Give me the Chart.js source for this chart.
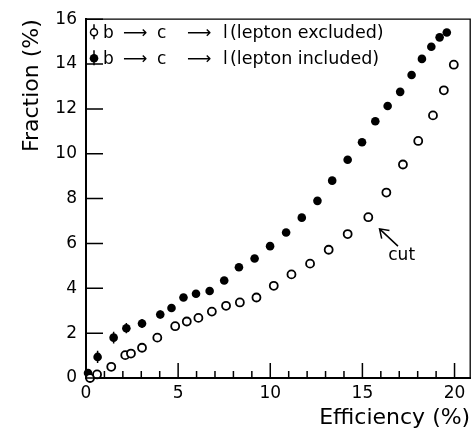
<!DOCTYPE html>
<html>
<head>
<meta charset="utf-8">
<script src="https://cdn.jsdelivr.net/npm/chart.js@4/dist/chart.umd.min.js"></script>
<style>
  html, body { margin: 0; padding: 0; background: #fff; }
</style>
</head>
<body>
<canvas id="fraction" width="476" height="434"></canvas>
<script>
// b -> c -> l, lepton excluded (open circles)
const effExcl  = [0.22, 0.6, 1.37, 2.13, 2.44, 3.04, 3.87, 4.84, 5.47, 6.1, 6.83, 7.6, 8.35, 9.25, 10.19, 11.15, 12.16, 13.17, 14.2, 15.32, 16.3, 17.2, 18.03, 18.83, 19.42, 19.96];
const fracExcl = [0.0, 0.16, 0.5, 1.02, 1.09, 1.35, 1.8, 2.31, 2.52, 2.68, 2.96, 3.22, 3.37, 3.59, 4.11, 4.62, 5.1, 5.72, 6.42, 7.17, 8.27, 9.52, 10.57, 11.71, 12.83, 13.97];

// b -> c -> l, lepton included (filled circles)
const effIncl  = [0.11, 0.63, 1.5, 2.19, 3.04, 4.03, 4.64, 5.29, 5.97, 6.71, 7.5, 8.3, 9.15, 9.99, 10.86, 11.71, 12.56, 13.36, 14.2, 14.98, 15.7, 16.37, 17.05, 17.67, 18.23, 18.74, 19.19, 19.58];
const fracIncl = [0.22, 0.94, 1.8, 2.22, 2.43, 2.83, 3.12, 3.59, 3.76, 3.88, 4.35, 4.94, 5.33, 5.88, 6.49, 7.15, 7.9, 8.8, 9.73, 10.51, 11.45, 12.13, 12.76, 13.51, 14.23, 14.77, 15.19, 15.41];
const errIncl  = [0.15, 0.27, 0.26, 0.23, 0.2, 0.18, 0.17, 0.16, 0.15, 0.14, 0.14, 0.13, 0.13, 0.13, 0.12, 0.12, 0.12, 0.12, 0.12, 0.12, 0.12, 0.12, 0.12, 0.12, 0.12, 0.12, 0.12, 0.12];

const xLabels = [0, 5, 10, 15, 20];
const yLabels = [0, 2, 4, 6, 8, 10, 12, 14, 16];
const legendText = ['(lepton excluded)', '(lepton included)'];

const FONT = 'DejaVu Sans';

function pts(xs, ys) {
  return xs.map((x, i) => ({ x: x, y: ys[i] }));
}

// vertical error bars as line segments split by gaps
function errSegs(xs, ys, es) {
  const out = [];
  xs.forEach((x, i) => {
    out.push({ x: x, y: ys[i] - es[i] }, { x: x, y: ys[i] + es[i] }, { x: x, y: null });
  });
  return out;
}

const decor = {
  id: 'decor',
  afterDatasetsDraw(chart) {
    const { ctx, chartArea: a, scales: { x, y } } = chart;
    ctx.save();
    ctx.strokeStyle = '#000';
    ctx.fillStyle = '#000';

    // top / right frame
    ctx.lineWidth = 1.3;
    ctx.beginPath();
    ctx.moveTo(a.left, a.top);
    ctx.lineTo(a.right, a.top);
    ctx.lineTo(a.right, a.bottom);
    ctx.stroke();

    // inward tick marks
    ctx.lineWidth = 1.5;
    ctx.beginPath();
    x.ticks.forEach(t => {
      const px = x.getPixelForValue(t.value);
      const len = xLabels.includes(t.value) ? 15 : 7;
      ctx.moveTo(px, a.bottom);
      ctx.lineTo(px, a.bottom - len);
    });
    y.ticks.forEach(t => {
      const py = y.getPixelForValue(t.value);
      const len = yLabels.includes(t.value) ? 17 : 8;
      ctx.moveTo(a.left, py);
      ctx.lineTo(a.left + len, py);
    });
    ctx.stroke();

    // legend
    const rows = [a.top + 19, a.top + 45];
    rows.forEach((base, i) => {
      const mx = a.left + 8, my = base - 6;
      ctx.lineWidth = 1.5;
      ctx.beginPath();
      ctx.moveTo(mx, my - 8);
      ctx.lineTo(mx, my + 7);
      ctx.stroke();
      ctx.beginPath();
      ctx.arc(mx, my, i === 0 ? 3.5 : 4.3, 0, Math.PI * 2);
      if (i === 0) {
        ctx.fillStyle = '#fff';
        ctx.fill();
        ctx.stroke();
        ctx.fillStyle = '#000';
      } else {
        ctx.fill();
      }
      ctx.font = '17px "' + FONT + '"';
      ctx.textBaseline = 'alphabetic';
      ctx.textAlign = 'left';
      ctx.fillText('b', a.left + 17, base);
      ctx.fillText('⟶', a.left + 37, base);
      ctx.fillText('c', a.left + 71, base);
      ctx.fillText('⟶', a.left + 101, base);
      ctx.fillText('l', a.left + 137, base);
      ctx.font = '17.5px "' + FONT + '"';
      ctx.fillText(legendText[i], a.left + 144, base);
    });

    // "cut" annotation
    const tipX = x.getPixelForValue(15.93), tipY = y.getPixelForValue(6.65);
    const tailX = x.getPixelForValue(16.93), tailY = y.getPixelForValue(5.88);
    const ang = Math.atan2(tailY - tipY, tailX - tipX);
    ctx.lineWidth = 1.5;
    ctx.beginPath();
    ctx.moveTo(tailX, tailY);
    ctx.lineTo(tipX, tipY);
    ctx.moveTo(tipX + 10 * Math.cos(ang - 0.6), tipY + 10 * Math.sin(ang - 0.6));
    ctx.lineTo(tipX, tipY);
    ctx.lineTo(tipX + 10 * Math.cos(ang + 0.6), tipY + 10 * Math.sin(ang + 0.6));
    ctx.stroke();
    ctx.font = '17px "' + FONT + '"';
    ctx.textAlign = 'center';
    ctx.textBaseline = 'middle';
    ctx.fillText('cut', x.getPixelForValue(17.13), y.getPixelForValue(5.45));
    ctx.restore();
  }
};

new Chart(document.getElementById('fraction'), {
  type: 'scatter',
  data: {
    datasets: [
      {
        label: 'b → c → l (lepton excluded)',
        data: pts(effExcl, fracExcl),
        pointRadius: 4,
        pointBorderWidth: 1.8,
        pointBackgroundColor: '#fff',
        pointBorderColor: '#000',
        clip: false
      },
      {
        label: 'b → c → l (lepton included)',
        data: pts(effIncl, fracIncl),
        pointRadius: 4.3,
        pointBorderWidth: 0,
        pointBackgroundColor: '#000',
        pointBorderColor: '#000',
        clip: false
      },
      {
        label: 'errors',
        data: errSegs(effIncl, fracIncl, errIncl),
        showLine: true,
        spanGaps: false,
        pointRadius: 0,
        borderColor: '#000',
        borderWidth: 1.5,
        clip: false
      }
    ]
  },
  options: {
    responsive: false,
    animation: false,
    events: [],
    layout: { padding: { left: 0, top: 16, right: 5, bottom: 0 } },
    plugins: { legend: { display: false }, tooltip: { enabled: false } },
    scales: {
      x: {
        type: 'linear',
        min: 0,
        max: 20.85,
        afterBuildTicks: s => {
          const t = [];
          for (let v = 0; v <= 20; v++) t.push({ value: v });
          s.ticks = t;
        },
        afterFit: s => { s.height = 56; },
        grid: { display: false, drawTicks: false },
        border: { display: true, color: '#000', width: 2 },
        ticks: {
          autoSkip: false,
          maxRotation: 0,
          padding: 5,
          color: '#000',
          font: { family: FONT, size: 17 },
          callback: v => xLabels.includes(v) ? String(v) : ''
        },
        title: {
          display: true,
          text: 'Efficiency (%)',
          align: 'end',
          color: '#000',
          font: { family: FONT, size: 22 },
          padding: { top: 0, bottom: 3 }
        }
      },
      y: {
        min: 0,
        max: 16,
        afterFit: s => { s.width = 86; },
        grid: { display: false, drawTicks: false },
        border: { display: true, color: '#000', width: 2 },
        ticks: {
          stepSize: 1,
          padding: 9,
          color: '#000',
          font: { family: FONT, size: 17 },
          callback: v => yLabels.includes(v) ? String(v) : ''
        },
        title: {
          display: true,
          text: 'Fraction (%)',
          align: 'end',
          color: '#000',
          font: { family: FONT, size: 22 },
          padding: { top: 19, bottom: 0 }
        }
      }
    }
  },
  plugins: [decor]
});
</script>
</body>
</html>
